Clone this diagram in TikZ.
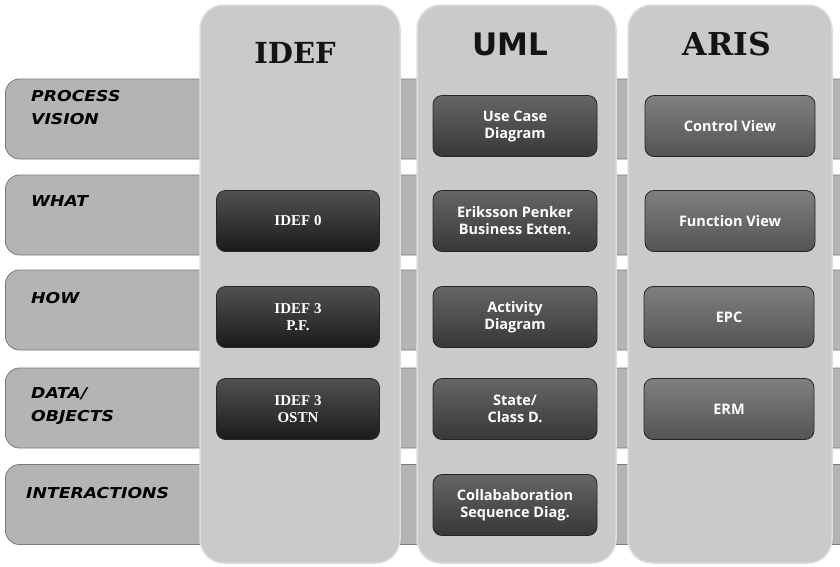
\documentclass[tikz,border=0pt]{standalone}
\usepackage{fontspec}
\setmainfont{DejaVu Sans}
\newfontfamily\hdserif{DejaVu Serif}
\newfontfamily\hdsans{DejaVu Sans}
\newfontfamily\rowfont{DejaVu Sans}[FakeStretch=1.15]
\newfontfamily\boxsans{Open Sans}
\newfontfamily\boxserif{Liberation Serif}
\definecolor{colfill}{HTML}{CACACA}
\definecolor{colrim}{HTML}{DEDEDE}
\definecolor{rowfill}{HTML}{B4B4B4}
\definecolor{rowedge}{HTML}{7A7A7A}
\definecolor{idefdark}{HTML}{262626}
\definecolor{umldark}{HTML}{4A4A4A}
\definecolor{arisdark}{HTML}{696969}
\tikzset{
  colbox/.style={rounded corners=24pt, fill=colfill, draw=colrim, line width=1.5pt, inner sep=0pt},
  rowband/.style={rounded corners=14pt, fill=rowfill, draw=rowedge, line width=0.8pt, inner sep=0pt, anchor=west, minimum height=80pt, minimum width=860pt},
  rowlabel/.style={anchor=north west, align=left, inner sep=0pt, font=\rowfont\bfseries\itshape\fontsize{15}{23}\selectfont},
  header/.style={anchor=base, inner sep=0pt, text=black!92},
  cell/.style={rounded corners=9pt, minimum height=61pt, inner sep=0pt, text=white, align=center, draw=black!85, line width=0.8pt},
  idefcell/.style={cell, minimum width=163pt, top color=idefdark!80!white, bottom color=idefdark!70!black, font=\boxserif\bfseries\fontsize{15}{17}\selectfont},
  umlcell/.style={cell, minimum width=164pt, top color=umldark!85!white, bottom color=umldark!75!black, font=\boxsans\bfseries\fontsize{14.5}{17}\selectfont},
  ariscell/.style={cell, minimum width=170pt, top color=arisdark!85!white, bottom color=arisdark!80!black, font=\boxsans\bfseries\fontsize{14.5}{17}\selectfont}
}
\begin{document}
\begin{tikzpicture}[x=1pt,y=-1pt]
\clip (0,0) rectangle (840,566);
\fill[white] (0,0) rectangle (840,566);
% row bands
\node[rowband] (rpv) at (5,119) {};
\node[rowband] (rwhat) at (5,215) {};
\node[rowband] (rhow) at (5,310) {};
\node[rowband] (rdata) at (5,408) {};
\node[rowband] (rint) at (5,504.5) {};
% row labels
\node[rowlabel] (lpv) at (31,90) {PROCESS\\VISION};
\node[rowlabel] (lwhat) at (31,195) {WHAT};
\node[rowlabel] (lhow) at (31,292) {HOW};
\node[rowlabel] (ldata) at (31,387) {DATA/\\OBJECTS};
\node[rowlabel] (lint) at (26,487) {INTERACTIONS};
% columns
\node[colbox, minimum width=200pt, minimum height=558pt] (cidef) at (300,284) {};
\node[colbox, minimum width=199pt, minimum height=558pt] (cuml) at (516.5,284) {};
\node[colbox, minimum width=204pt, minimum height=558pt] (caris) at (730,284) {};
% headers
\node[header, font=\hdserif\bfseries\fontsize{29}{30}\selectfont] (hidef) at (295,63) {IDEF};
\node[header, font=\hdsans\bfseries\fontsize{31}{32}\selectfont] (huml) at (510,55) {UML};
\node[header, font=\hdserif\bfseries\fontsize{31.5}{32}\selectfont] (haris) at (727,55) {ARIS};
% IDEF cells
\node[idefcell] (i0) at (298,221) {IDEF 0};
\node[idefcell] (i3pf) at (298,317) {IDEF 3\\P.F.};
\node[idefcell] (i3os) at (298,409) {IDEF 3\\OSTN};
% UML cells
\node[umlcell] (uuc) at (515,126) {Use Case\\Diagram};
\node[umlcell] (uep) at (515,221) {Eriksson Penker\\Business Exten.};
\node[umlcell] (uact) at (515,317) {Activity\\Diagram};
\node[umlcell] (ust) at (515,409) {State/\\Class D.};
\node[umlcell] (ucol) at (515,505) {Collababoration\\Sequence Diag.};
% ARIS cells
\node[ariscell] (acv) at (730,126) {Control View};
\node[ariscell] (afv) at (730,221) {Function View};
\node[ariscell] (aepc) at (729,317) {EPC};
\node[ariscell] (aerm) at (729,409) {ERM};
\end{tikzpicture}
\end{document}
